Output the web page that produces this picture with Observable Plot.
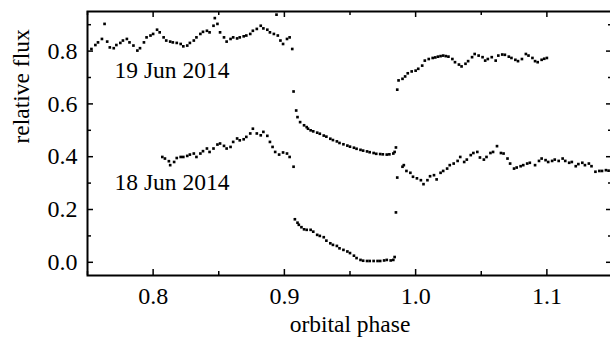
<!DOCTYPE html>
<html><head><meta charset="utf-8">
<script src="https://cdn.jsdelivr.net/npm/d3@7"></script>
<script src="https://cdn.jsdelivr.net/npm/@observablehq/plot@0.6"></script>
<style>
html,body{margin:0;padding:0;overflow:hidden;background:#fff;}
#chart{width:625px;}
#chart svg{display:block;max-width:none !important;width:625px !important;height:345px !important;}
#chart svg, #chart svg text, #chart svg g {font-family: "Liberation Serif", "Times New Roman", serif !important;}
</style></head><body><div id="chart"></div>
<script>
// 19 Jun 2014 light curve (orbital phase, relative flux)
const jun19Phase = [
0.753,0.756,0.758,0.763,0.761,0.765,0.767,0.770,0.772,0.775,0.777,0.780,0.782,0.785,0.788,0.790,0.793,0.795,0.798,0.800,
0.803,0.805,0.808,0.810,0.813,0.815,0.818,0.821,0.823,0.826,0.828,0.831,0.833,0.836,0.838,0.841,0.843,0.846,0.847,0.849,
0.851,0.854,0.856,0.859,0.861,0.864,0.866,0.869,0.871,0.874,0.876,0.879,0.882,0.884,0.887,0.889,0.892,0.894,0.895,0.897,
0.899,0.902,0.904,0.906,
0.907,0.909,0.910,0.912,0.915,0.917,0.918,0.920,0.922,0.925,0.927,0.930,0.932,0.935,0.937,0.940,0.942,0.945,0.948,0.950,
0.953,0.955,0.958,0.960,0.963,0.965,0.968,0.970,0.973,0.975,0.978,0.980,0.983,0.984,0.985,
0.986,0.987,0.990,0.992,0.994,0.997,1.000,1.002,1.005,1.007,1.010,1.013,1.015,1.017,1.019,1.021,1.023,1.025,1.028,1.030,
1.033,1.035,1.038,1.040,1.043,1.045,1.048,1.051,1.053,1.055,1.058,1.061,1.063,1.066,1.068,1.071,1.073,1.076,1.078,1.081,
1.084,1.086,1.089,1.091,1.093,1.096,1.098,1.100
];
const jun19Flux = [
0.808,0.823,0.833,0.903,0.846,0.836,0.814,0.811,0.823,0.831,0.840,0.846,0.833,0.821,0.802,0.811,0.833,0.852,0.859,0.865,
0.881,0.871,0.852,0.840,0.836,0.833,0.831,0.827,0.818,0.821,0.831,0.840,0.852,0.865,0.873,0.877,0.871,0.896,0.925,0.903,
0.871,0.852,0.836,0.846,0.852,0.848,0.852,0.856,0.859,0.865,0.877,0.884,0.896,0.886,0.881,0.871,0.865,0.938,0.859,0.840,
0.827,0.846,0.852,0.808,
0.647,0.575,0.550,0.531,0.519,0.512,0.506,0.500,0.496,0.491,0.487,0.480,0.476,0.468,0.463,0.458,0.452,0.447,0.442,0.438,
0.434,0.430,0.426,0.423,0.420,0.417,0.414,0.411,0.410,0.409,0.408,0.409,0.412,0.418,0.435,
0.654,0.689,0.695,0.704,0.716,0.723,0.726,0.733,0.745,0.764,0.770,0.774,0.776,0.779,0.781,0.783,0.781,0.779,0.770,0.758,
0.749,0.742,0.752,0.762,0.777,0.789,0.783,0.777,0.764,0.770,0.777,0.764,0.783,0.787,0.786,0.779,0.774,0.767,0.762,0.770,
0.789,0.783,0.774,0.762,0.758,0.767,0.771,0.774
];
// 18 Jun 2014 light curve
const jun18Phase = [
0.807,0.809,0.812,0.813,0.816,0.818,0.821,0.823,0.826,0.828,0.831,0.833,0.836,0.838,0.841,0.843,0.846,0.849,0.851,0.854,
0.856,0.859,0.861,0.864,0.866,0.869,0.871,0.874,0.876,0.879,0.882,0.884,0.887,0.889,0.891,0.893,0.896,0.899,0.902,0.904,
0.907,
0.908,0.910,0.911,0.913,0.915,0.917,0.920,0.922,0.925,0.927,0.930,0.932,0.935,0.937,0.940,0.942,0.945,0.948,0.950,0.953,
0.955,0.958,0.960,0.963,0.965,0.968,0.971,0.973,0.976,0.978,0.981,0.983,0.984,
0.985,0.986,0.990,0.991,0.993,0.996,0.998,1.001,1.004,1.006,1.009,1.011,1.014,1.016,1.019,1.021,1.024,1.026,1.029,1.032,
1.034,1.037,1.039,1.042,1.044,1.047,1.049,1.052,1.054,1.057,1.059,1.062,1.065,1.067,1.070,1.072,1.075,1.077,1.080,1.082,
1.085,1.087,1.091,1.094,1.096,1.099,1.101,1.104,1.106,1.109,1.112,1.114,1.117,1.119,1.122,1.124,1.127,1.129,1.132,1.134,
1.137,1.140,1.142,1.145,1.147
];
const jun18Flux = [
0.399,0.393,0.383,0.368,0.380,0.395,0.399,0.399,0.403,0.408,0.412,0.399,0.412,0.421,0.431,0.418,0.431,0.446,0.450,0.441,
0.431,0.437,0.456,0.469,0.462,0.466,0.475,0.488,0.506,0.488,0.481,0.494,0.479,0.456,0.437,0.418,0.408,0.416,0.412,0.399,
0.362,
0.163,0.150,0.142,0.133,0.125,0.123,0.123,0.116,0.104,0.100,0.095,0.082,0.072,0.066,0.062,0.053,0.047,0.041,0.035,0.025,
0.016,0.009,0.006,0.005,0.005,0.005,0.005,0.005,0.007,0.009,0.007,0.009,0.020,
0.189,0.321,0.362,0.368,0.346,0.339,0.324,0.318,0.311,0.296,0.311,0.326,0.330,0.314,0.339,0.346,0.355,0.368,0.374,0.384,
0.399,0.380,0.389,0.406,0.414,0.418,0.397,0.389,0.399,0.414,0.418,0.440,0.414,0.412,0.393,0.374,0.355,0.359,0.364,0.368,
0.374,0.377,0.368,0.384,0.393,0.387,0.380,0.384,0.389,0.384,0.393,0.384,0.377,0.380,0.364,0.372,0.377,0.368,0.374,0.364,
0.343,0.346,0.346,0.349,0.347
];
const xMajorTicks = [0.8, 0.9, 1.0, 1.1];
const xMinorTicks = [0.75, 0.85, 0.95, 1.05, 1.15];
const yMajorTicks = [0.0, 0.2, 0.4, 0.6, 0.8];
const yMinorTicks = [0.1, 0.3, 0.5, 0.7, 0.9];
const seriesNames = ["19 Jun 2014", "18 Jun 2014"];
const labelPhase = [0.7706, 0.7706];
const labelFlux = [0.70, 0.272];

const W = 625, H = 345, mL = 87, mR = 13, mT = 11, mB = 70;
const innerH = H - mT - mB, innerW = W - mL - mR;
const font = "Liberation Serif, Times New Roman, serif";

const points = [
  ...jun19Phase.map((p, i) => ({phase: p, flux: jun19Flux[i], night: seriesNames[0]})),
  ...jun18Phase.map((p, i) => ({phase: p, flux: jun18Flux[i], night: seriesNames[1]}))
];
const labels = seriesNames.map((t, i) => ({text: t, phase: labelPhase[i], flux: labelFlux[i]}));

const chart = Plot.plot({
  width: W, height: H,
  marginLeft: mL, marginRight: mR, marginTop: mT, marginBottom: mB,
  style: {fontFamily: font, background: "white", color: "black", overflow: "visible", maxWidth: "none"},
  x: {domain: [0.75, 1.15], axis: null},
  y: {domain: [-0.05, 0.95], axis: null},
  marks: [
    Plot.dot(points, {x: "phase", y: "flux", symbol: "square", r: 1.5, fill: "black", stroke: null}),
    Plot.ruleX(xMajorTicks, {x: d => d, insetTop: innerH - 6, strokeWidth: 1.5}),
    Plot.ruleX(xMajorTicks, {x: d => d, insetBottom: innerH - 6, strokeWidth: 1.5}),
    Plot.ruleX(xMinorTicks, {x: d => d, insetTop: innerH - 4, strokeWidth: 1.5}),
    Plot.ruleX(xMinorTicks, {x: d => d, insetBottom: innerH - 4, strokeWidth: 1.5}),
    Plot.ruleY(yMajorTicks, {y: d => d, insetRight: innerW - 6, strokeWidth: 1.5}),
    Plot.ruleY(yMajorTicks, {y: d => d, insetLeft: innerW - 6, strokeWidth: 1.5}),
    Plot.ruleY(yMinorTicks, {y: d => d, insetRight: innerW - 4, strokeWidth: 1.5}),
    Plot.ruleY(yMinorTicks, {y: d => d, insetLeft: innerW - 4, strokeWidth: 1.5}),
    Plot.frame({strokeWidth: 2}),
    Plot.text(yMajorTicks, {y: d => d, frameAnchor: "left", text: d => d.toFixed(1), textAnchor: "end", dx: -10, fontSize: 24}),
    Plot.text(xMajorTicks, {x: d => d, frameAnchor: "bottom", text: d => d.toFixed(1), lineAnchor: "bottom", dy: 28.5, fontSize: 24}),
    Plot.text(["orbital phase"], {frameAnchor: "bottom", text: d => d, lineAnchor: "bottom", dy: 56, fontSize: 23.5}),
    Plot.text(["relative flux"], {frameAnchor: "left", text: d => d, rotate: -90, lineAnchor: "bottom", dx: -59, fontSize: 23.5}),
    Plot.text(labels, {x: "phase", y: "flux", text: "text", textAnchor: "start", lineAnchor: "bottom", fontSize: 23.5})
  ]
});
document.getElementById("chart").appendChild(chart);
</script>
</body></html>
